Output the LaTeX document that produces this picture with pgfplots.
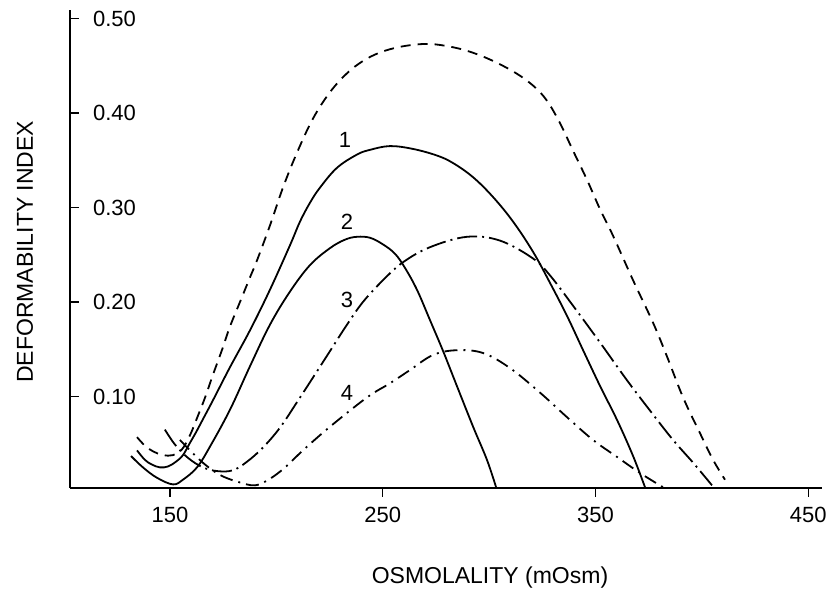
\documentclass[border=0pt]{standalone}
\usepackage{fontspec}
\setmainfont{Liberation Sans}
\usepackage{pgfplots}
\pgfplotsset{compat=1.18}
\begin{document}
\begin{tikzpicture}
\useasboundingbox (-35pt,-53.5pt) rectangle (381pt,244pt);
\begin{axis}[
  at={(0,0)}, anchor=south west,
  scale only axis, width=376pt, height=239pt,
  xmin=103, xmax=456.5, ymin=0.0032, ymax=0.509,
  axis lines=left, axis line style={-, line width=0.9pt},
  xtick={150,250,350,450}, xticklabels={150,250,350,450},
  ytick={0.1,0.2,0.3,0.4,0.5}, yticklabels={0.10,0.20,0.30,0.40,0.50},
  xtick align=outside, ytick align=inside,
  major tick length=4.5pt,
  tick style={line width=0.6pt, black},
  yticklabel style={anchor=west, xshift=8pt},
  xticklabel style={yshift=-1.5pt},
  ticklabel style={font=\fontsize{11}{13}\selectfont},
  xlabel={OSMOLALITY (mOsm)}, ylabel={DEFORMABILITY INDEX},
  xlabel style={at={(axis description cs:0.5585,-0.188)}, anchor=center, font=\fontsize{11.5}{13}\selectfont},
  ylabel style={at={(axis description cs:-0.0598,0.494)}, anchor=center, font=\fontsize{11.5}{13}\selectfont},
  clip=false,
  every axis plot/.append style={line width=0.9pt, black, no markers, smooth, tension=0.6},
]
% dashed (top) curve
\addplot[dash pattern=on 5pt off 3.5pt] coordinates {
(134.5,0.057)(138.2,0.048)(142.0,0.042)(146.7,0.038)(151.4,0.038)(155.6,0.044)
(159.4,0.059)(163.2,0.080)(166.5,0.099)(170.2,0.123)(174.4,0.149)(178.2,0.174)
(182.9,0.200)(187.6,0.226)(190.9,0.244)(197.0,0.281)(203.1,0.321)(209.7,0.358)
(217.2,0.394)(225.2,0.422)(233.2,0.442)(240.7,0.455)(248.7,0.464)(258.1,0.470)
(268.9,0.473)(276.9,0.472)(287.8,0.467)(299.0,0.458)(311.3,0.444)(320.7,0.429)
(327.2,0.413)(333.4,0.389)(339.5,0.360)(346.1,0.329)(352.2,0.298)(358.3,0.270)
(367.7,0.223)(377.1,0.178)(383.7,0.142)(391.2,0.099)(399.2,0.061)(405.3,0.033)
(410.9,0.012)};
% curve 1
\addplot[solid] coordinates {
(134.5,0.043)(138.2,0.033)(141.5,0.028)(145.3,0.025)(149.1,0.026)(152.8,0.031)
(156.1,0.038)(159.4,0.051)(162.2,0.062)(165.5,0.076)(170.2,0.096)(178.2,0.131)
(187.6,0.170)(197.0,0.213)(206.4,0.260)(211.1,0.285)(215.8,0.305)(220.5,0.321)
(228.5,0.342)(237.9,0.356)(244.0,0.361)(253.4,0.365)(264.2,0.362)(275.5,0.355)
(283.1,0.347)(292.5,0.332)(301.9,0.311)(311.3,0.285)(320.7,0.253)(328.7,0.220)
(336.7,0.185)(344.2,0.149)(352.2,0.111)(360.2,0.075)(367.7,0.037)(373.3,0.004)};
% curve 2
\addplot[solid] coordinates {
(131.7,0.037)(137.3,0.025)(143.9,0.014)(151.4,0.007)(156.1,0.012)(162.7,0.025)
(168.8,0.047)(178.2,0.086)(187.6,0.132)(197.0,0.176)(206.4,0.211)(215.8,0.239)
(225.2,0.257)(232.3,0.266)(237.9,0.269)(244.0,0.268)(250.1,0.261)(255.8,0.251)
(260.5,0.236)(266.1,0.213)(272.2,0.181)(278.4,0.148)(284.9,0.111)(292.5,0.068)
(299.0,0.033)(303.3,0.004)};
% curve 3
\addplot[dash pattern=on 10pt off 2.5pt on 1pt off 2.5pt] coordinates {
(147.6,0.065)(152.4,0.049)(158.5,0.035)(165.5,0.025)(172.6,0.021)(179.6,0.022)
(186.2,0.031)(193.7,0.046)(201.7,0.067)(209.7,0.094)(217.2,0.120)(225.2,0.148)
(233.2,0.176)(240.7,0.200)(250.1,0.223)(259.5,0.242)(272.2,0.258)(289.6,0.269)
(305.1,0.265)(320.7,0.246)(328.7,0.228)(339.5,0.196)(352.2,0.157)(364.9,0.117)
(375.7,0.085)(386.5,0.054)(395.9,0.030)(404.8,0.006)};
% curve 4
\addplot[dash pattern=on 6.5pt off 3pt on 1pt off 3pt] coordinates {
(154.7,0.054)(160.3,0.041)(166.5,0.028)(173.5,0.017)(181.5,0.010)(190.0,0.006)
(197.0,0.013)(204.1,0.025)(212.5,0.043)(225.2,0.068)(242.6,0.099)(253.4,0.114)
(262.8,0.128)(273.7,0.144)(284.9,0.149)(297.2,0.146)(309.9,0.130)(324.0,0.104)
(336.7,0.078)(348.9,0.054)(360.2,0.036)(371.0,0.019)(381.8,0.004)};
\node[font=\fontsize{11}{13}\selectfont] at (axis cs:232.3,0.371) {1};
\node[font=\fontsize{11}{13}\selectfont] at (axis cs:233.2,0.285) {2};
\node[font=\fontsize{11}{13}\selectfont] at (axis cs:233.2,0.202) {3};
\node[font=\fontsize{11}{13}\selectfont] at (axis cs:233.2,0.104) {4};
\end{axis}
\end{tikzpicture}
\end{document}
